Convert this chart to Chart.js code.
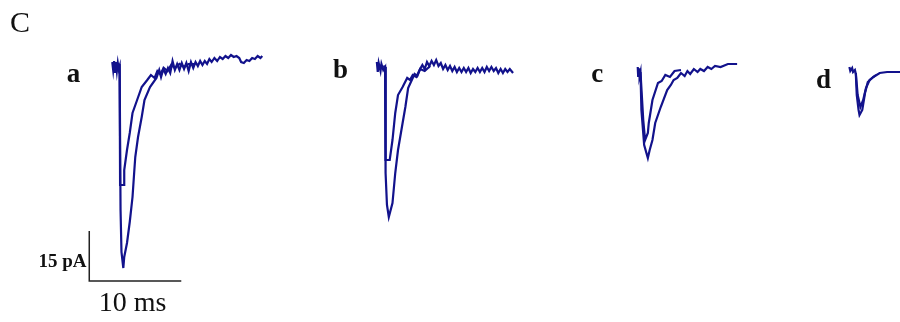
<!DOCTYPE html>
<html>
<head>
<meta charset="utf-8">
<script src="https://cdn.jsdelivr.net/npm/chart.js@4/dist/chart.umd.min.js"></script>
<style>
  html, body { margin: 0; padding: 0; background: #fff; }
  #box { position: relative; width: 900px; height: 322px; }
</style>
</head>
<body>
<div id="box"><canvas id="traces"></canvas></div>
<script>
// traces: [time from onset (ms), current (pA)], two sweeps per cell
const traceA1 = [[-0.8,0.9],[-0.7,-1.5],[-0.6,1.2],[-0.5,-2.1],[-0.4,0.9],[-0.3,-1.8],[-0.2,0.6],[-0.1,-1.2],[0,-0.3],[0.1,-43.5],[0.2,-56.1],[0.4,-60.9],[0.5,-57.6],[0.8,-53.4],[1.1,-47.1],[1.4,-39.6],[1.6,-31.5],[1.7,-27.6],[2.0,-21.6],[2.4,-15.6],[2.7,-10.5],[3.3,-6.6],[4.0,-3.9],[4.3,-1.5],[4.5,-3.6],[4.75,-1.2],[5.0,-2.7],[5.25,-0.9],[5.5,-2.4],[5.75,1.2],[6.0,-1.5],[6.25,0.3],[6.5,-1.5],[6.75,0.6],[7.0,-1.2],[7.25,0.6],[7.5,-1.8],[7.75,0.9],[8.0,-0.9],[8.25,0.9],[8.5,-0.3],[8.75,1.2],[9.0,0],[9.25,1.2],[9.5,0.3],[9.75,1.8],[10.0,0.9],[10.3,2.1],[10.6,1.2],[10.9,2.4],[11.2,1.8],[11.5,2.7],[11.8,2.1],[12.1,3.0],[12.4,2.4],[12.7,2.7],[13.0,2.1],[13.2,0.9],[13.5,0.6],[13.8,1.5],[14.1,1.2],[14.4,2.1],[14.7,1.8],[15.0,2.7],[15.3,2.1],[15.5,2.7]];
const traceA2 = [[-0.2,0.3],[0,0],[0.05,-36],[0.5,-36],[0.5,-31.5],[0.8,-25.5],[1.1,-20.4],[1.4,-14.4],[1.9,-10.5],[2.4,-6.6],[3.0,-4.5],[3.4,-3.0],[3.8,-3.9],[4.1,-1.8],[4.4,-2.7],[4.8,-0.9],[5.2,-1.8],[5.6,0],[6.0,-0.9],[6.5,0.3],[7.0,-0.6],[7.5,0.3],[8.2,0.3]];
const traceB1 = [[-0.9,0.9],[-0.8,-2.1],[-0.7,0.6],[-0.5,-1.8],[-0.4,0.3],[-0.2,-1.5],[0,-0.6],[0.05,-32.4],[0.2,-42],[0.4,-45.6],[0.8,-41.4],[1.1,-32.4],[1.4,-25.5],[1.9,-17.4],[2.2,-12.6],[2.5,-6.9],[2.9,-4.5],[3.2,-2.7],[3.5,-3.3],[3.8,-1.2],[4.05,0],[4.3,-1.2],[4.55,0.9],[4.8,-0.3],[5.05,1.2],[5.3,0],[5.55,1.5],[5.8,-0.3],[6.05,0.6],[6.3,-1.2],[6.55,0],[6.8,-1.5],[7.05,-0.3],[7.3,-1.8],[7.55,-0.6],[7.8,-2.1],[8.05,-0.9],[8.3,-2.1],[8.55,-0.9],[8.8,-2.1],[9.05,-0.9],[9.3,-2.4],[9.55,-1.2],[9.8,-2.1],[10.05,-0.9],[10.3,-2.1],[10.55,-0.9],[10.8,-2.1],[11.05,-0.6],[11.3,-1.8],[11.55,-0.6],[11.8,-1.8],[12.05,-0.9],[12.3,-2.4],[12.55,-1.2],[12.8,-2.4],[13.05,-1.2],[13.3,-2.1],[13.55,-1.2],[13.9,-2.4]];
const traceB2 = [[-0.2,-0.3],[0,-0.6],[0.05,-28.5],[0.5,-28.5],[0.8,-22.5],[1.1,-14.4],[1.4,-9],[1.9,-6.6],[2.4,-3.9],[2.7,-4.5],[3.0,-3],[3.4,-3.6],[3.8,-1.2],[4.3,-1.8],[4.9,-0.3]];
const traceC1 = [[-0.3,-0.6],[-0.25,-3.6],[-0.15,-1.0],[-0.1,-3.3],[0,-2.1],[0.1,-13.5],[0.4,-24],[0.8,-27.9],[1.0,-25.5],[1.3,-22.5],[1.6,-17.4],[2.2,-12.6],[2.9,-7.5],[3.3,-6.0],[3.6,-4.5],[4.0,-3.9],[4.4,-2.4],[4.8,-3.3],[5.1,-1.8],[5.4,-2.7],[5.8,-1.2],[6.2,-2.1],[6.5,-1.2],[6.9,-1.8],[7.3,-0.6],[7.7,-1.2],[8.1,-0.3],[8.7,-0.6],[9.5,0.3],[10.5,0.3]];
const traceC2 = [[0,-2.1],[0.3,-16.5],[0.5,-22.5],[0.8,-20.4],[0.9,-17.4],[1.3,-10.5],[1.9,-5.4],[2.3,-4.8],[2.7,-3],[3.2,-3.6],[3.7,-1.8],[4.4,-1.5]];
const traceD1 = [[-0.7,-0.6],[-0.6,-1.8],[-0.4,-0.9],[-0.3,-2.1],[-0.1,-1.5],[0,-2.7],[0.1,-9],[0.3,-13.5],[0.4,-15],[0.7,-13.5],[1.0,-8.4],[1.3,-5.1],[1.9,-3.6],[2.6,-2.4],[3.4,-2.1],[4.8,-2.1]];
const traceD2 = [[0,-2.4],[0.2,-9],[0.5,-12.6],[0.8,-10.5],[1.1,-6.9],[1.5,-4.5],[2.2,-3]];

const cellNames = ['a', 'b', 'c', 'd'];
const cellTraces = [[traceA1, traceA2], [traceB1, traceB2], [traceC1, traceC2], [traceD1, traceD2]];

// scale bar size
const barMs = 10;
const barPa = 15;

// layout, in axis units (ms / pA)
const cellOnset = [13.0, 41.85, 69.6, 93.0];
const cellLabelPos = [[8.0, -5.1], [37.0, -3.9], [64.9, -5.1], [89.5, -6.9]];
const barOrigin = [9.7, -64.8];
const xRange = [0, 97.8];
const yRange = [-77.1, 19.5];

const traceColor = '#12128c';

const datasets = [];
cellTraces.forEach((pair, i) => {
    pair.forEach(tr => {
        datasets.push({
            data: tr.map(p => ({ x: cellOnset[i] + p[0], y: p[1] })),
            borderColor: traceColor,
            borderWidth: 2.2,
            borderJoinStyle: 'miter',
            pointRadius: 0,
            showLine: true,
            fill: false,
            tension: 0
        });
    });
});

// scale bar as an L
datasets.push({
    data: [
        { x: barOrigin[0], y: barOrigin[1] + barPa },
        { x: barOrigin[0], y: barOrigin[1] },
        { x: barOrigin[0] + barMs, y: barOrigin[1] }
    ],
    borderColor: '#222',
    borderWidth: 1.5,
    pointRadius: 0,
    showLine: true,
    fill: false
});

// text labels drawn at axis coordinates
const textPlugin = {
    id: 'figText',
    afterDatasetsDraw(chart) {
        const ctx = chart.ctx;
        const xs = chart.scales.x;
        const ys = chart.scales.y;
        ctx.save();
        ctx.fillStyle = '#111';
        ctx.textBaseline = 'alphabetic';

        ctx.font = '30px "Liberation Serif", serif';
        ctx.textAlign = 'left';
        ctx.fillText('C', xs.getPixelForValue(1.1), ys.getPixelForValue(9.9));

        ctx.font = 'bold 27px "Liberation Serif", serif';
        ctx.textAlign = 'center';
        cellNames.forEach((n, i) => {
            ctx.fillText(n, xs.getPixelForValue(cellLabelPos[i][0]), ys.getPixelForValue(cellLabelPos[i][1]));
        });

        ctx.font = 'bold 19px "Liberation Serif", serif';
        ctx.textAlign = 'right';
        ctx.fillText(barPa + ' pA', xs.getPixelForValue(barOrigin[0] - 0.3), ys.getPixelForValue(barOrigin[1] + 4.2));

        ctx.font = '28px "Liberation Serif", serif';
        ctx.textAlign = 'center';
        ctx.fillText(barMs + ' ms', xs.getPixelForValue(barOrigin[0] + barMs / 2 - 0.3), ys.getPixelForValue(barOrigin[1] - 9));
        ctx.restore();
    }
};

new Chart(document.getElementById('traces'), {
    type: 'scatter',
    data: { datasets },
    options: {
        responsive: true,
        maintainAspectRatio: false,
        animation: false,
        layout: { padding: 0 },
        scales: {
            x: { type: 'linear', min: xRange[0], max: xRange[1], display: false },
            y: { type: 'linear', min: yRange[0], max: yRange[1], display: false }
        },
        plugins: {
            legend: { display: false },
            tooltip: { enabled: false }
        }
    },
    plugins: [textPlugin]
});
</script>
</body>
</html>
